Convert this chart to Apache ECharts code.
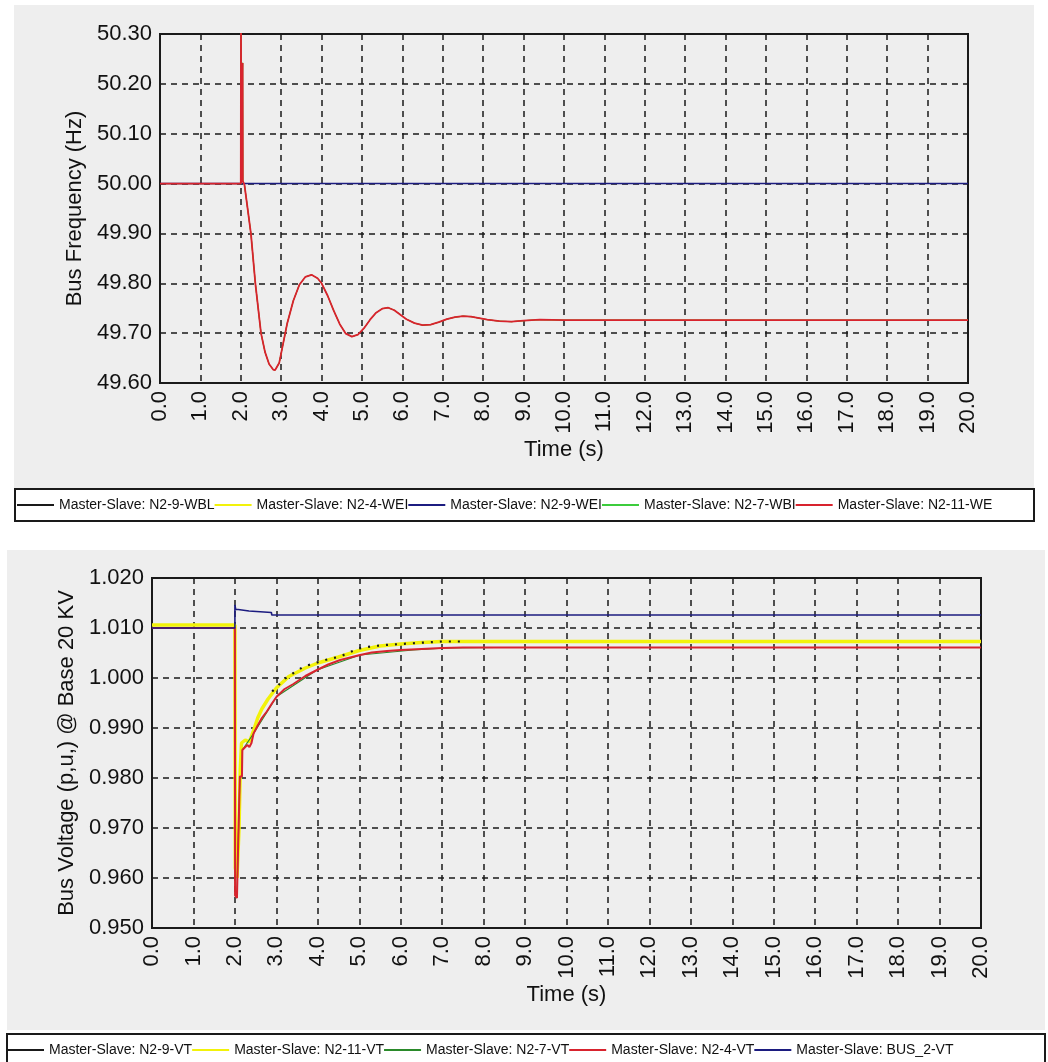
<!DOCTYPE html>
<html>
<head>
<meta charset="utf-8">
<script src="https://cdn.jsdelivr.net/npm/echarts@6/dist/echarts.min.js"></script>
<style>
  html, body { margin: 0; padding: 0; background: #ffffff; }
  #chart { width: 1048px; height: 1062px; }
</style>
</head>
<body>
<div id="chart"></div>
<script>
// ---- axis ticks ----
const timeTicks = [0, 1, 2, 3, 4, 5, 6, 7, 8, 9, 10, 11, 12, 13, 14, 15, 16, 17, 18, 19, 20];
const freqTicks = [49.60, 49.70, 49.80, 49.90, 50.00, 50.10, 50.20, 50.30];
const voltTicks = [0.950, 0.960, 0.970, 0.980, 0.990, 1.000, 1.010, 1.020];

// ---- series names ----
const freqNames = [
  'Master-Slave: N2-9-WBL',
  'Master-Slave: N2-4-WEI',
  'Master-Slave: N2-9-WEI',
  'Master-Slave: N2-7-WBI',
  'Master-Slave: N2-11-WE'
];
const voltNames = [
  'Master-Slave: N2-9-VT',
  'Master-Slave: N2-11-VT',
  'Master-Slave: N2-7-VT',
  'Master-Slave: N2-4-VT',
  'Master-Slave: BUS_2-VT'
];

// ---- bus frequency (Hz) vs time (s) ----
const freqSwing = [
  [0, 50.000], [2.000, 50.000], [2.005, 50.360], [2.010, 50.000], [2.040, 50.000],
  [2.045, 50.242], [2.050, 50.005], [2.080, 50.005], [2.090, 49.998], [2.130, 50.000],
  [2.250, 49.900], [2.360, 49.800], [2.500, 49.700], [2.600, 49.662], [2.700, 49.638],
  [2.800, 49.627], [2.850, 49.626], [2.950, 49.640], [3.050, 49.680], [3.150, 49.720],
  [3.300, 49.765], [3.450, 49.797], [3.600, 49.813], [3.750, 49.817], [3.900, 49.810],
  [4.000, 49.800], [4.150, 49.775], [4.300, 49.745], [4.450, 49.718], [4.600, 49.699],
  [4.750, 49.693], [4.900, 49.697], [5.050, 49.710], [5.200, 49.727], [5.350, 49.741],
  [5.500, 49.749], [5.650, 49.751], [5.800, 49.746], [5.950, 49.737], [6.100, 49.728],
  [6.300, 49.720], [6.500, 49.716], [6.700, 49.717], [6.900, 49.722], [7.100, 49.728],
  [7.300, 49.732], [7.500, 49.734], [7.700, 49.733], [7.900, 49.730], [8.100, 49.727],
  [8.400, 49.724], [8.700, 49.723], [9.000, 49.725], [9.400, 49.727], [10.000, 49.726],
  [20.000, 49.726]
];
const freqFlat = [[0, 50.000], [20, 50.000]];

// ---- bus voltage (p.u.) vs time (s) ----
const voltN2_9 = [
  [2.900, 0.9973], [3.210, 0.9999], [3.660, 1.0023], [4.180, 1.0036], [4.540, 1.0043],
  [4.980, 1.0059], [5.350, 1.0064], [5.630, 1.0066], [6.200, 1.0069], [7.000, 1.0073],
  [7.500, 1.0073]
];
const voltN2_11 = [
  [0, 1.0106], [2.000, 1.0106], [2.010, 0.9620], [2.050, 0.9600], [2.100, 0.9700],
  [2.130, 0.9818], [2.160, 0.9870], [2.250, 0.9876], [2.350, 0.9872], [2.450, 0.9895],
  [2.550, 0.9920], [2.650, 0.9938], [2.800, 0.9958], [3.000, 0.9980], [3.300, 1.0003],
  [3.700, 1.0020], [4.000, 1.0030], [4.500, 1.0042], [5.000, 1.0055], [5.500, 1.0064],
  [6.000, 1.0068], [6.500, 1.0071], [7.000, 1.0073], [20.000, 1.0073]
];
const voltN2_7 = [
  [0, 1.0100], [2.000, 1.0100], [2.005, 0.9565], [2.050, 0.9560], [2.070, 0.9636],
  [2.110, 0.9636], [2.120, 0.9803], [2.170, 0.9803], [2.180, 0.9856], [2.450, 0.9889],
  [3.010, 0.9963], [3.980, 1.0016], [5.020, 1.0046], [6.300, 1.0056], [6.500, 1.0057],
  [7.100, 1.0060], [8.300, 1.0061]
];
const voltN2_4 = [
  [0, 1.0100], [2.000, 1.0100], [2.005, 0.9565], [2.050, 0.9560], [2.070, 0.9636],
  [2.110, 0.9636], [2.120, 0.9803], [2.170, 0.9803], [2.180, 0.9856], [2.250, 0.9862],
  [2.300, 0.9866], [2.350, 0.9862], [2.400, 0.9870], [2.450, 0.9889], [2.550, 0.9905],
  [2.650, 0.9920], [2.770, 0.9933], [2.900, 0.9950], [3.010, 0.9963], [3.200, 0.9978],
  [3.410, 0.9988], [3.700, 1.0004], [3.980, 1.0016], [4.250, 1.0027], [4.540, 1.0036],
  [5.020, 1.0046], [5.300, 1.0051], [5.670, 1.0054], [6.000, 1.0056], [6.500, 1.0058],
  [7.000, 1.0060], [7.500, 1.0061], [20.000, 1.0061]
];
const voltBus2 = [
  [0, 1.0100], [2.000, 1.0100], [2.000, 1.0146], [2.020, 1.0137], [2.080, 1.0137],
  [2.090, 1.0134], [2.340, 1.0134], [2.350, 1.0131], [2.880, 1.0131], [2.890, 1.0126],
  [20.000, 1.0126]
];

const FONT = '"Liberation Sans", Arial, sans-serif';
const GRID_LINE = { show: true, lineStyle: { color: '#1a1a1a', width: 1.5, type: [6, 5] } };

function timeAxis(gridIndex) {
  return {
    type: 'value', gridIndex: gridIndex,
    min: timeTicks[0], max: timeTicks[timeTicks.length - 1],
    interval: timeTicks[1] - timeTicks[0],
    name: 'Time (s)', nameLocation: 'middle', nameGap: 56,
    nameTextStyle: { fontFamily: FONT, fontSize: 22, color: '#111' },
    axisLine: { show: true, onZero: false, lineStyle: { color: '#1a1a1a', width: 2 } },
    axisTick: { show: false },
    axisLabel: { rotate: 90, margin: 8, fontFamily: FONT, fontSize: 22, color: '#111',
      formatter: v => v.toFixed(1) },
    splitLine: GRID_LINE
  };
}

function valueAxis(gridIndex, ticks, digits, title, gap) {
  return {
    type: 'value', gridIndex: gridIndex,
    min: ticks[0], max: ticks[ticks.length - 1],
    interval: +(ticks[1] - ticks[0]).toFixed(6),
    name: title, nameLocation: 'middle', nameGap: gap,
    nameTextStyle: { fontFamily: FONT, fontSize: 22, color: '#111' },
    axisLine: { show: true, onZero: false, lineStyle: { color: '#1a1a1a', width: 2 } },
    axisTick: { show: false },
    axisLabel: { margin: 8, fontFamily: FONT, fontSize: 22, color: '#111',
      formatter: v => v.toFixed(digits) },
    splitLine: GRID_LINE
  };
}

function line(name, data, color, width, xi, dash, z) {
  return {
    type: 'line', name: name, data: data,
    xAxisIndex: xi, yAxisIndex: xi, z: z || 2,
    showSymbol: false, symbol: 'none', animation: false, clip: true,
    lineStyle: { color: color, width: width, type: dash || 'solid' },
    itemStyle: { color: color }
  };
}

function legendFor(names, left, top) {
  return {
    data: names, left: left, top: top, orient: 'horizontal',
    padding: 0, itemGap: 0, itemWidth: 37, itemHeight: 2, icon: 'rect',
    selectedMode: false,
    textStyle: { fontFamily: FONT, fontSize: 14, color: '#111', width: 150, overflow: 'none' }
  };
}

const chart = echarts.init(document.getElementById('chart'), null, { renderer: 'canvas' });

chart.setOption({
  backgroundColor: '#ffffff',
  animation: false,
  graphic: [
    { type: 'rect', z: -10, silent: true, shape: { x: 14, y: 5, width: 1020, height: 483 },
      style: { fill: '#eeeeee' } },
    { type: 'rect', z: -10, silent: true, shape: { x: 15, y: 489, width: 1019, height: 32 },
      style: { fill: '#ffffff', stroke: '#1a1a1a', lineWidth: 2 } },
    { type: 'rect', z: -10, silent: true, shape: { x: 7, y: 550, width: 1038, height: 480 },
      style: { fill: '#eeeeee' } },
    { type: 'rect', z: -10, silent: true, shape: { x: 7, y: 1034, width: 1038, height: 40 },
      style: { fill: '#ffffff', stroke: '#1a1a1a', lineWidth: 2 } }
  ],
  grid: [
    { left: 160, top: 34, width: 808, height: 349, show: true,
      backgroundColor: 'transparent', borderColor: '#1a1a1a', borderWidth: 2 },
    { left: 152, top: 578, width: 829, height: 350, show: true,
      backgroundColor: 'transparent', borderColor: '#1a1a1a', borderWidth: 2 }
  ],
  xAxis: [timeAxis(0), timeAxis(1)],
  yAxis: [
    valueAxis(0, freqTicks, 2, 'Bus Frequency (Hz)', 66),
    valueAxis(1, voltTicks, 3, 'Bus Voltage (p,u,) @ Base 20 KV', 67)
  ],
  legend: [
    legendFor(freqNames, 17, 498),
    legendFor(voltNames, 7, 1043)
  ],
  series: [
    // the WBL / 4-WEI / 7-WBI traces coincide with N2-11-WE and sit beneath it
    line(freqNames[0], freqSwing, '#1a1a1a', 0.8, 0),
    line(freqNames[1], freqSwing, '#f2f20a', 0.8, 0),
    line(freqNames[2], freqFlat, '#1c1c80', 1.5, 0),
    line(freqNames[3], freqSwing, '#3ccc3c', 0.8, 0),
    line(freqNames[4], freqSwing, '#d8232e', 1.8, 0),

    // N2-9-VT is sampled sparsely, so it shows as dots along the upper edge
    line(voltNames[0], voltN2_9, '#1a1a1a', 2.2, 1, [2, 7], 3),
    line(voltNames[1], voltN2_11, '#f2f20a', 3.5, 1),
    line(voltNames[2], voltN2_7, '#2a8a2a', 1.2, 1),
    line(voltNames[3], voltN2_4, '#d8232e', 2, 1),
    line(voltNames[4], voltBus2, '#1c1c80', 1.6, 1)
  ]
});
</script>
</body>
</html>
